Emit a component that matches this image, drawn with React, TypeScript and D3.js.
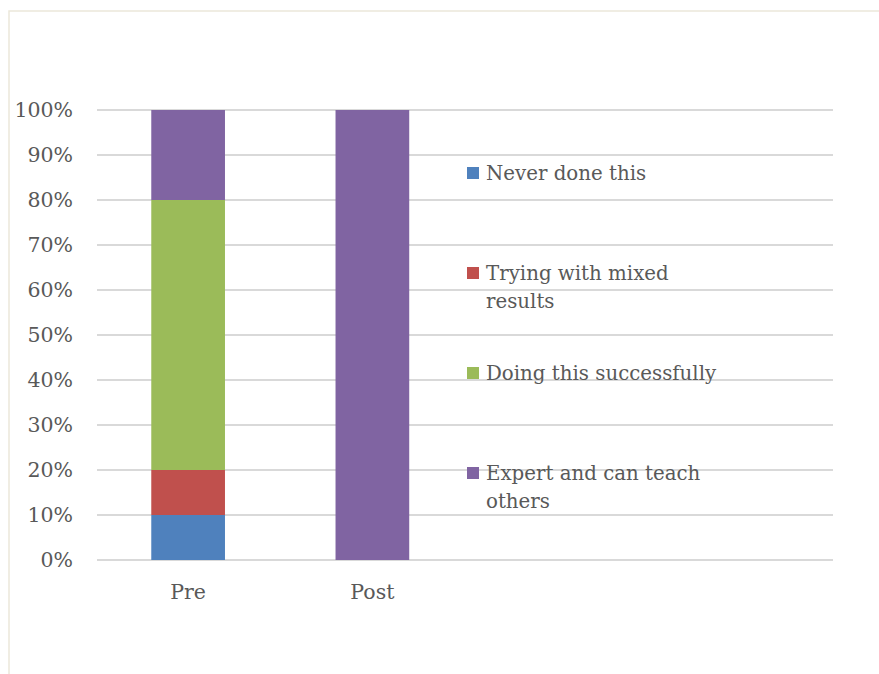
import React from "react";
import * as d3 from "d3";

const categories = ["Pre", "Post"];
const slotCount = 4;
const seriesNames = [
  "Never done this",
  "Trying with mixed results",
  "Doing this successfully",
  "Expert and can teach others",
];
const legendLines = [
  ["Never done this"],
  ["Trying with mixed", "results"],
  ["Doing this successfully"],
  ["Expert and can teach", "others"],
];
const neverDone = [0.1, 0];
const tryingMixed = [0.1, 0];
const doingSuccess = [0.6, 0];
const expert = [0.2, 1.0];
const colors = ["#4f81bd", "#c0504d", "#9bbb59", "#8064a2"];
const yTicks = [0, 0.1, 0.2, 0.3, 0.4, 0.5, 0.6, 0.7, 0.8, 0.9, 1.0];

const W = 879;
const H = 674;
const FONT = "'DejaVu Serif', serif";
const TEXT = "#595959";

export default function App() {
  const x = d3.scaleBand<number>().domain(d3.range(slotCount)).range([96, 833]).padding(0);
  const y = d3.scaleLinear().domain([0, 1]).range([560, 110]);
  const fmt = d3.format(".0%");

  const rows = categories.map((c, i) => ({
    cat: c,
    s0: neverDone[i],
    s1: tryingMixed[i],
    s2: doingSuccess[i],
    s3: expert[i],
  }));
  const stack = d3.stack<any>().keys(["s0", "s1", "s2", "s3"]);
  const stacked = stack(rows);
  const step = x.bandwidth();
  const barW = step * 0.4;

  const legendY = [173, 273, 373, 473];

  return (
    <svg
      width={W}
      height={H}
      style={{ position: "absolute", left: 0, top: 0, background: "#fff" }}
    >
      <rect x={9} y={11} width={W + 20} height={H + 20} fill="#fff" stroke="#ebe8da" strokeWidth={1.5} />
      {yTicks.map((t) => (
        <g key={t}>
          <line x1={97} x2={833} y1={y(t)} y2={y(t)} stroke="#d9d9d9" strokeWidth={1.8} />
          <text
            x={73}
            y={y(t)}
            dy="0.35em"
            textAnchor="end"
            fontFamily={FONT}
            fontSize={20.5}
            fill={TEXT}
          >
            {fmt(t)}
          </text>
        </g>
      ))}
      {stacked.map((layer, si) =>
        layer.map((d, i) => {
          const cx = (x(i) as number) + step / 2;
          const h = y(d[0]) - y(d[1]);
          if (h <= 0) return null;
          return (
            <rect
              key={`${si}-${i}`}
              x={cx - barW / 2}
              y={y(d[1])}
              width={barW}
              height={h}
              fill={colors[si]}
            />
          );
        })
      )}
      {categories.map((c, i) => (
        <text
          key={c}
          x={(x(i) as number) + step / 2}
          y={592}
          dy="0.35em"
          textAnchor="middle"
          fontFamily={FONT}
          fontSize={20.5}
          fill={TEXT}
        >
          {c}
        </text>
      ))}
      {seriesNames.map((s, i) => (
        <g key={s}>
          <rect x={467} y={legendY[i] - 6} width={12} height={12} fill={colors[i]} />
          {legendLines[i].map((ln, j) => (
            <text
              key={j}
              x={486}
              y={legendY[i] + j * 28}
              dy="0.35em"
              fontFamily={FONT}
              fontSize={19.8}
              fill={TEXT}
            >
              {ln}
            </text>
          ))}
        </g>
      ))}
    </svg>
  );
}
